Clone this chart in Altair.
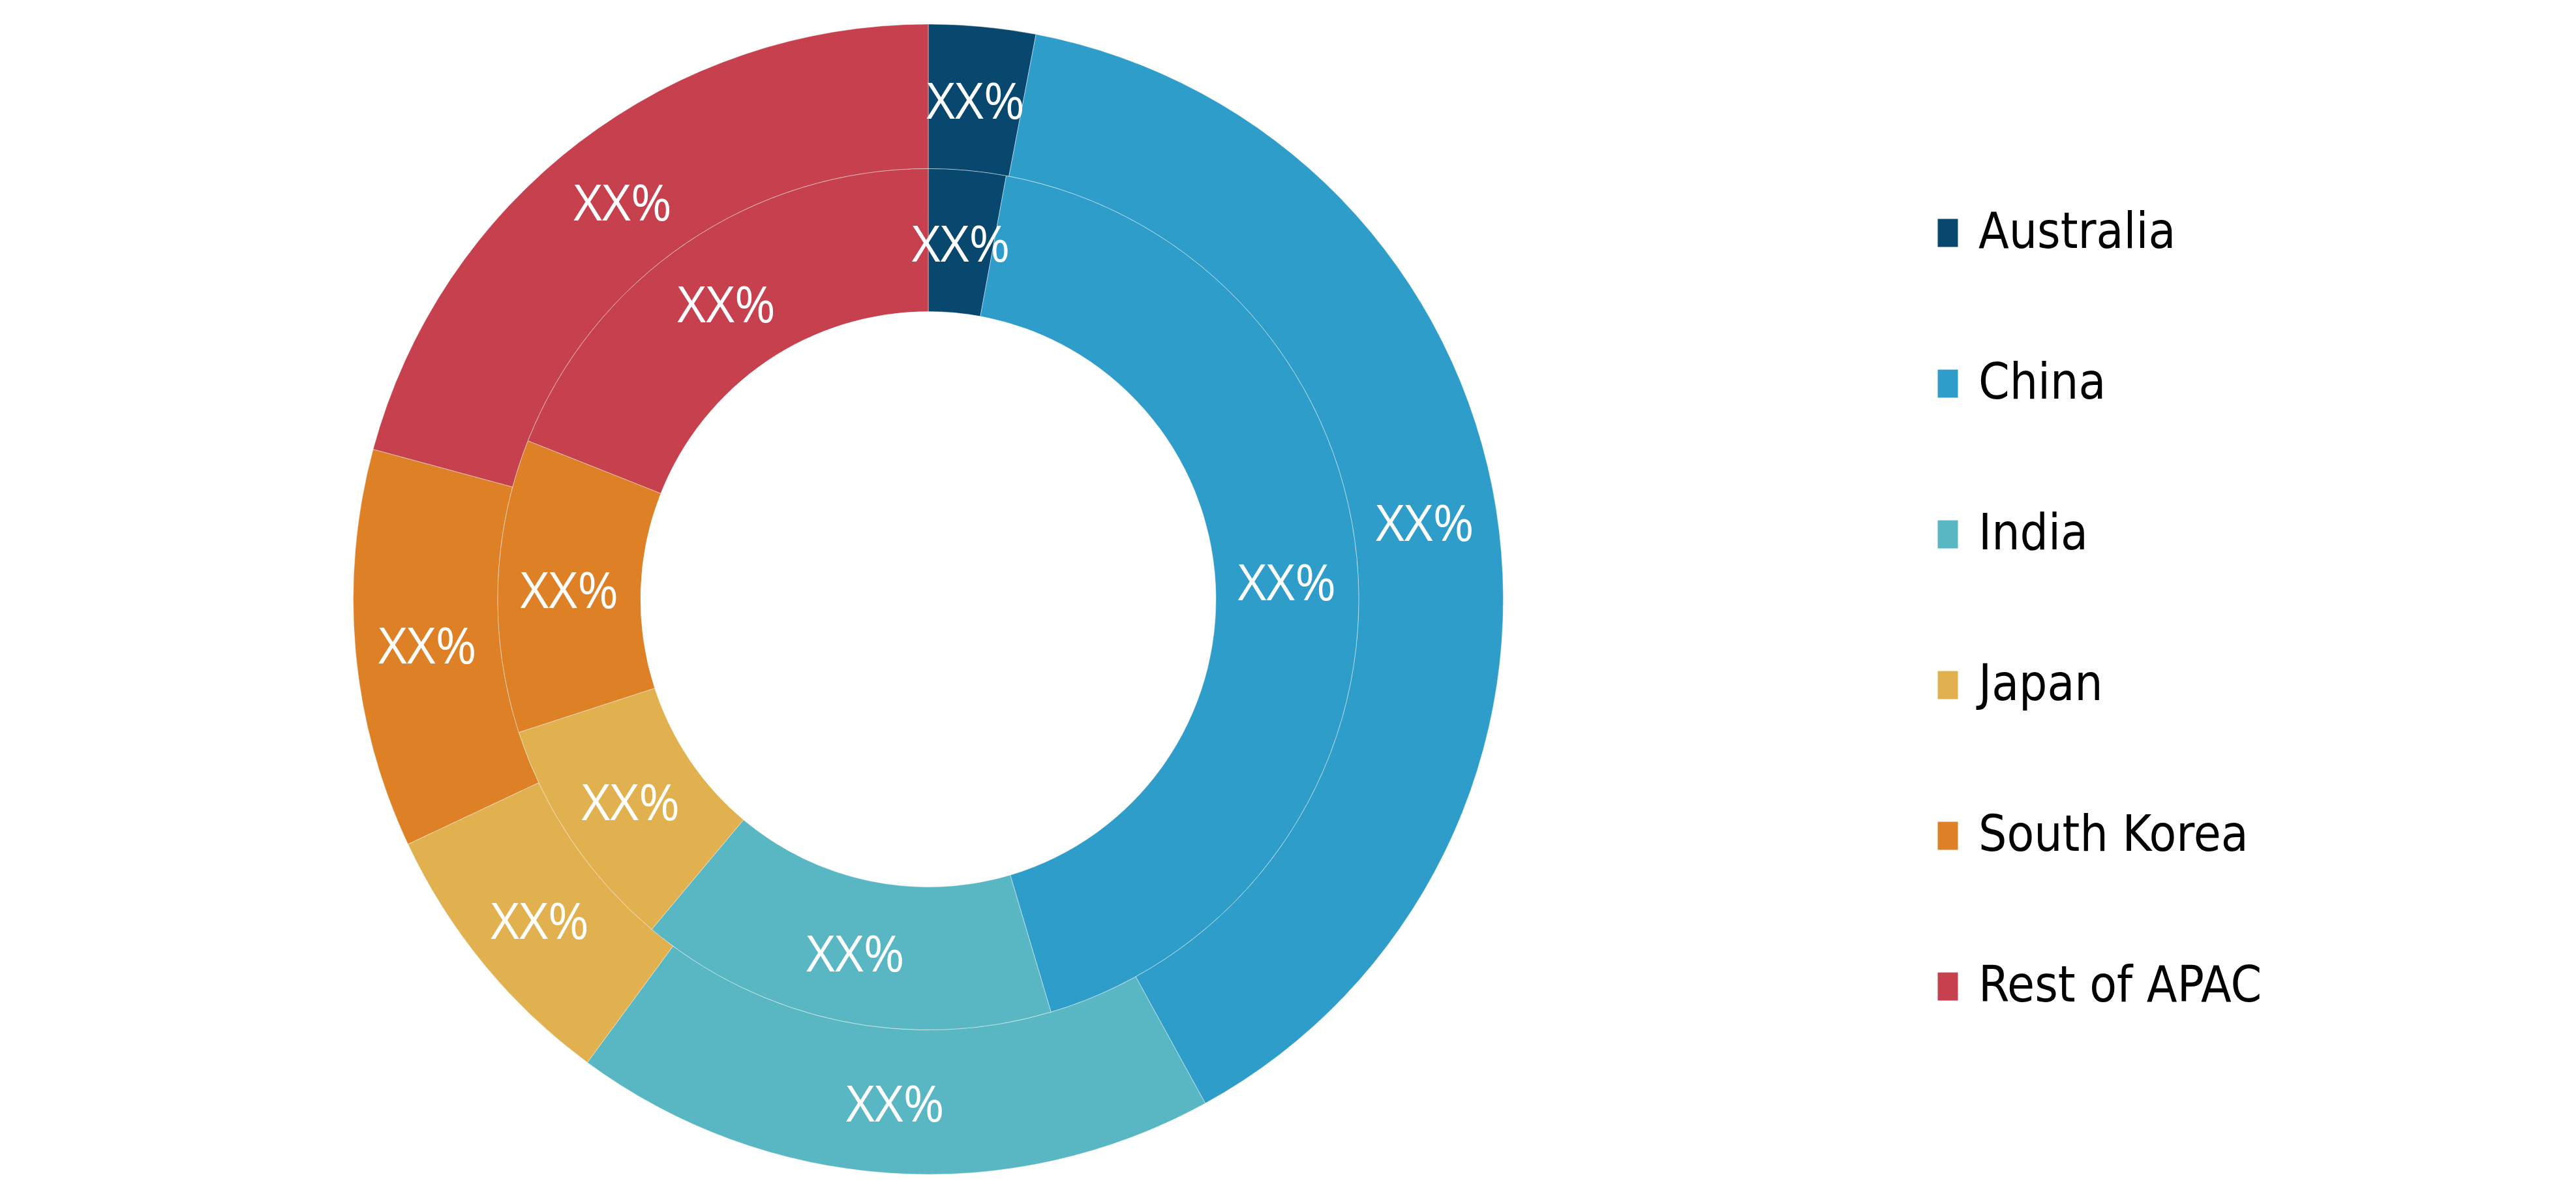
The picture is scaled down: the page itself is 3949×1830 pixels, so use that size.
import altair as alt
import pandas as pd

regions = ["Australia", "China", "India", "Japan", "South Korea", "Rest of APAC"]
colors = ["#08486F", "#2E9DCA", "#58B7C2", "#E2B14F", "#DE8026", "#C7404D"]
outer_share = [3.0, 39.0, 18.1, 7.9, 11.2, 20.8]
inner_share = [2.9, 42.5, 15.7, 8.9, 11.0, 19.0]
label_text = ["XX%"] * 6

outer_df = pd.DataFrame({"region": regions, "share": outer_share,
                         "idx": list(range(6)), "label": label_text})
inner_df = pd.DataFrame({"region": regions, "share": inner_share,
                         "idx": list(range(6)), "label": label_text})

CX, CY = 1415, 910.5
R_HOLE, R_MID, R_OUT = 441, 660, 881.5

color = alt.Color(
    "region:N",
    sort=regions,
    scale=alt.Scale(domain=regions, range=colors),
    legend=alt.Legend(
        title=None,
        orient="none",
        legendX=2940,
        legendY=311,
        direction="vertical",
        symbolType="M-0.72,-1L0.72,-1L0.72,1L-0.72,1Z",
        symbolSize=1849,
        symbolStrokeWidth=0,
        symbolOpacity=1,
        labelFont="Liberation Sans Narrow, Arial Narrow, DejaVu Sans Condensed, Liberation Sans, sans-serif",
        labelFontSize=76,
        labelColor="#000000",
        labelOffset=9,
        rowPadding=155,
        labelLimit=1000,
    ),
)

def ring(df, r_in, r_out):
    base = alt.Chart(df).encode(
        theta=alt.Theta("share:Q", stack=True),
        order=alt.Order("idx:Q"),
        x=alt.value(CX),
        y=alt.value(CY),
    )
    arcs = base.mark_arc(innerRadius=r_in, outerRadius=r_out,
                         stroke="white", strokeWidth=1, strokeOpacity=0.45).encode(color=color)
    texts = base.mark_text(radius=(r_in + r_out) / 2, font="Open Sans", fontSize=76,
                           color="white", align="center", baseline="middle", dy=8).encode(
        text="label:N")
    return arcs, texts

oa, ot = ring(outer_df, R_MID, R_OUT)
ia, it = ring(inner_df, R_HOLE, R_MID)

chart = alt.layer(oa, ia, ot, it).properties(
    width=3933, height=1814, padding=0,
    autosize=alt.AutoSizeParams(type="fit", contains="padding"),
).configure_view(stroke=None)

chart.save("out.html", embed_options={"renderer": "svg", "actions": False})
